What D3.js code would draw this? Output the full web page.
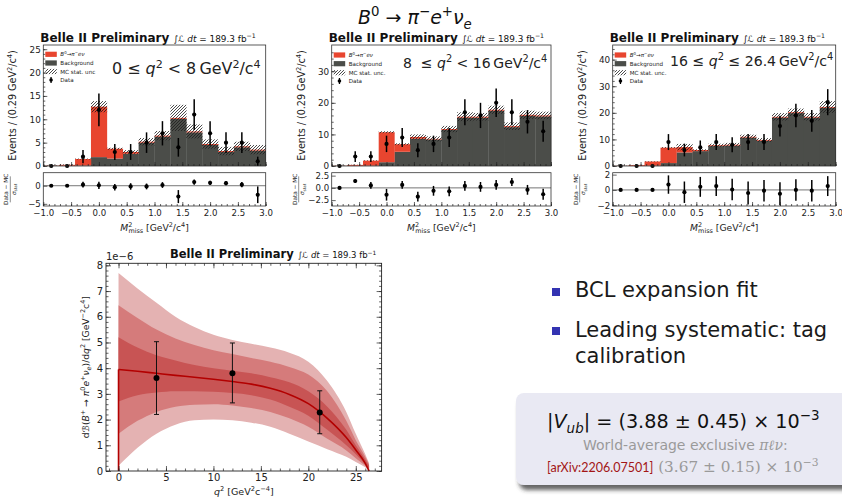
<!DOCTYPE html>
<html>
<head>
<meta charset="utf-8">
<script src="https://cdn.jsdelivr.net/npm/d3@7"></script>
<style>
  body { margin: 0; background: #fff; }
  svg { display: block; }
  text { font-family: "DejaVu Sans", sans-serif; }
</style>
</head>
<body>
<script>
// ---- histogram data (bin centres in GeV^2/c^4) ----
var binCenters = [-0.857, -0.571, -0.286, 0.0, 0.286, 0.571, 0.857, 1.143, 1.429, 1.714, 2.0, 2.286, 2.571, 2.857];
var binWidth = 0.2857;
var missTicks = [-1.0, -0.5, 0.0, 0.5, 1.0, 1.5, 2.0, 2.5, 3.0];

// 0 <= q2 < 8
var bkg1 = [0.05, 0.05, 0.1, 1.9, 1.6, 2.6, 5.0, 6.3, 10.1, 7.2, 4.5, 3.0, 4.0, 3.3];
var sig1 = [0.05, 0.2, 1.4, 10.8, 2.1, 0.4, 0.2, 0.2, 0.2, 0.2, 0.2, 0.2, 0.2, 0.2];
var unc1 = [0.05, 0.1, 0.1, 1.2, 0.2, 0.4, 0.8, 1.0, 2.8, 1.5, 1.0, 0.9, 1.0, 1.0];
var data1 = [0, 0, 2, 12, 3, 3, 5, 7, 4, 11, 7, 5, 5, 1];
var err1 = [0, 0, 1.4, 3.5, 1.7, 1.7, 2.2, 2.6, 2.0, 3.3, 2.6, 2.2, 2.2, 1.0];
var pull1 = [0, 0, 0.3, 0.1, -0.4, -0.2, -0.2, 0.2, -3.0, 1.0, 0.8, 0.7, 0.3, -2.5];
var pullErr1 = [0.15, 0.15, 0.8, 1.0, 0.9, 0.9, 0.8, 0.8, 1.8, 0.7, 0.6, 0.6, 0.7, 2.3];

// 8 <= q2 < 16
var bkg2 = [0.05, 0.05, 0.1, 1.2, 4.5, 8.6, 8.4, 11.4, 15.3, 15.3, 17.5, 12.3, 15.9, 15.7];
var sig2 = [0.05, 0.3, 1.6, 9.5, 2.4, 0.6, 0.2, 0.3, 0.3, 0.3, 0.3, 0.3, 0.3, 0.3];
var unc2 = [0.05, 0.05, 0.1, 0.3, 0.3, 0.8, 0.8, 1.0, 1.4, 1.2, 1.3, 1.2, 1.3, 1.2];
var data2 = [0, 3, 3, 7, 9, 5, 7, 9, 17, 16, 20, 17, 14, 11];
var err2 = [0, 1.7, 1.7, 2.6, 3.0, 2.2, 2.6, 3.0, 4.1, 4.0, 4.5, 4.1, 3.7, 3.3];
var pull2 = [0, 1.4, 0.5, -1.4, 0.6, -1.8, -0.6, -0.7, 0.4, 0.2, 0.6, 1.2, -0.4, -1.3];
var pullErr2 = [0.1, 0.4, 0.7, 1.2, 0.8, 1.0, 1.0, 1.0, 1.0, 1.0, 1.0, 0.8, 1.0, 1.1];

// 16 <= q2 <= 26.4
var bkg3 = [0.05, 0.05, 0.1, 1.1, 5.1, 5.6, 7.5, 7.7, 10.7, 9.5, 18.2, 19.9, 18.2, 21.9];
var sig3 = [0.05, 0.3, 1.6, 5.8, 2.0, 0.4, 0.3, 0.3, 0.3, 0.3, 0.3, 0.3, 0.3, 0.3];
var unc3 = [0.05, 0.05, 0.1, 0.2, 1.2, 0.3, 0.6, 0.7, 0.8, 0.7, 1.4, 1.4, 1.4, 2.2];
var data3 = [0, 0, 0, 9, 6, 7, 9, 8, 9, 9, 15, 19, 17, 24];
var err3 = [0, 0, 0, 3.0, 2.4, 2.6, 3.0, 2.8, 3.0, 3.0, 3.9, 4.4, 4.1, 4.9];
var pull3 = [0, 0, 0, 0.7, -0.3, 0.4, 0.5, 0.05, -0.4, -0.1, -0.5, 0, -0.1, 0.5];
var pullErr3 = [0.05, 0.05, 0.05, 1.2, 1.4, 1.3, 1.3, 1.4, 1.5, 1.4, 1.5, 1.4, 1.4, 1.3];

// ---- differential branching fraction (units of 1e-6) ----
var q2Grid    = [0, 2, 4, 6, 8, 10, 12, 14, 16, 18, 20, 22, 24, 25, 26, 26.4];
var central   = [3.95, 3.88, 3.80, 3.72, 3.65, 3.57, 3.48, 3.38, 3.22, 2.98, 2.62, 2.05, 1.30, 0.82, 0.30, 0.0];
var outerUp   = [7.7, 7.1, 6.55, 6.0, 5.6, 5.3, 5.1, 4.95, 4.8, 4.6, 4.25, 3.5, 2.3, 1.45, 0.65, 0.3];
var outerLo   = [0.2, 0.9, 1.45, 1.8, 1.97, 2.0, 1.97, 1.88, 1.72, 1.45, 1.15, 0.85, 0.55, 0.35, 0.15, 0.05];
var midUp     = [6.45, 5.95, 5.5, 5.15, 4.9, 4.7, 4.55, 4.4, 4.25, 4.05, 3.75, 3.1, 1.95, 1.2, 0.55, 0.25];
var midLo     = [1.45, 1.95, 2.3, 2.5, 2.58, 2.6, 2.55, 2.45, 2.3, 2.05, 1.72, 1.25, 0.8, 0.5, 0.2, 0.08];
var innerUp   = [5.2, 4.8, 4.5, 4.3, 4.12, 4.0, 3.9, 3.8, 3.65, 3.45, 3.1, 2.5, 1.6, 1.0, 0.45, 0.2];
var innerLo   = [2.7, 2.95, 3.05, 3.1, 3.1, 3.08, 3.03, 2.95, 2.78, 2.5, 2.15, 1.6, 1.0, 0.65, 0.25, 0.1];
var measQ2    = [4.0, 12.0, 21.2];
var measVal   = [3.62, 3.80, 2.28];
var measLo    = [2.20, 2.65, 1.45];
var measHi    = [5.03, 4.98, 3.12];
var q2Ticks   = [0, 5, 10, 15, 20, 25];
var dbTicks   = [0, 1, 2, 3, 4, 5, 6, 7, 8];

var sigColor = "#e8452f", bkgColor = "#4b4d49";
var slideFont = "Lato, 'DejaVu Sans', sans-serif";

var svg = d3.select("body").append("svg").attr("width", 842).attr("height", 499);
var defs = svg.append("defs");
defs.append("pattern").attr("id", "hatch").attr("patternUnits", "userSpaceOnUse")
  .attr("width", 3).attr("height", 3)
  .append("path").attr("d", "M-1,1 l2,-2 M0,3 l3,-3 M2,4 l2,-2")
  .attr("stroke", "#1e1e1e").attr("stroke-width", 0.8);
var shadow = defs.append("filter").attr("id", "shadow").attr("x", "-10%").attr("y", "-10%").attr("width", "130%").attr("height", "140%");
shadow.append("feDropShadow").attr("dx", 3).attr("dy", 5).attr("stdDeviation", 2.2)
  .attr("flood-color", "#333").attr("flood-opacity", 0.75);

// rich text helper: parts = [{t, i, sup, sub, f, fill, dx}]
function rich(sel, parts, size) {
  var shift = 0;
  parts.forEach(function(p) {
    var target = p.sup ? -size * 0.4 : p.sub ? size * 0.25 : 0;
    var ts = sel.append("tspan").text(p.t).attr("dy", target - shift);
    shift = target;
    if (p.sup || p.sub) ts.attr("font-size", size * 0.7);
    if (p.i) ts.attr("font-style", "italic");
    if (p.f) ts.attr("font-family", p.f);
    if (p.fill) ts.attr("fill", p.fill);
    if (p.dx) ts.attr("dx", p.dx);
  });
  return sel;
}

function belleTitle(x, y, size) {
  var t = svg.append("text").attr("x", x).attr("y", y).attr("font-size", size).attr("fill", "#111");
  t.append("tspan").attr("font-weight", "bold").text("Belle II Preliminary ");
  var s = size * 0.74;
  t.append("tspan").attr("font-size", s).text("\u222B");
  t.append("tspan").attr("font-size", s).attr("font-style", "italic").text("\u2112 dt");
  t.append("tspan").attr("font-size", s).text(" = 189.3 fb");
  t.append("tspan").attr("font-size", s * 0.7).attr("dy", -s * 0.4).text("\u22121");
}

function styleAxis(g, size) {
  g.select(".domain").remove();
  g.selectAll(".tick line").attr("stroke", "#222").attr("stroke-width", 0.7);
  g.selectAll(".tick text").attr("font-size", size).attr("fill", "#222")
    .attr("font-family", "DejaVu Sans");
}

var fmt = function(f) { return function(d) { return d3.format(f)(d); }; };

function drawPanel(p) {
  var top = 45, base = 166, pTop = 172.7, pBot = 206;
  var x = d3.scaleLinear().domain([-1, 3]).range([p.L, p.R]);
  var y = d3.scaleLinear().domain([0, p.ymax]).range([base, top]);
  var yp = d3.scaleLinear().domain(p.pullDom).range([pBot, pTop]);
  var bins = binCenters.map(function(c, i) {
    return { c: c, bkg: p.bkg[i], sig: p.sig[i], unc: p.unc[i], data: p.data[i], err: p.err[i],
             pull: p.pull[i], pullErr: p.pullErr[i] };
  });
  var g = svg.append("g");
  var bx = function(d) { return x(d.c - binWidth / 2); };
  var bw = function(d) { return x(d.c + binWidth / 2) - x(d.c - binWidth / 2) + 0.3; };

  g.selectAll("rect.bkg").data(bins).join("rect").attr("class", "bkg")
    .attr("x", bx).attr("width", bw)
    .attr("y", function(d) { return y(d.bkg); })
    .attr("height", function(d) { return y(0) - y(d.bkg); })
    .attr("fill", bkgColor);
  g.selectAll("rect.sig").data(bins).join("rect").attr("class", "sig")
    .attr("x", bx).attr("width", bw)
    .attr("y", function(d) { return y(d.bkg + d.sig); })
    .attr("height", function(d) { return y(d.bkg) - y(d.bkg + d.sig); })
    .attr("fill", sigColor);
  g.selectAll("rect.unc").data(bins).join("rect").attr("class", "unc")
    .attr("x", bx).attr("width", bw)
    .attr("y", function(d) { return y(d.bkg + d.sig + d.unc); })
    .attr("height", function(d) { return y(Math.max(0, d.bkg + d.sig - d.unc)) - y(d.bkg + d.sig + d.unc); })
    .attr("fill", "url(#hatch)");

  // data points
  g.selectAll("line.err").data(bins.filter(function(d) { return d.err > 0; })).join("line")
    .attr("x1", function(d) { return x(d.c); }).attr("x2", function(d) { return x(d.c); })
    .attr("y1", function(d) { return y(d.data - d.err); }).attr("y2", function(d) { return y(d.data + d.err); })
    .attr("stroke", "#000").attr("stroke-width", 1.5);
  g.selectAll("circle.pt").data(bins).join("circle")
    .attr("cx", function(d) { return x(d.c); }).attr("cy", function(d) { return y(d.data); })
    .attr("r", 2.1).attr("fill", "#000");

  // pull panel
  g.append("line").attr("x1", p.L).attr("x2", p.R).attr("y1", yp(0)).attr("y2", yp(0))
    .attr("stroke", "#666").attr("stroke-width", 0.9);
  g.selectAll("line.perr").data(bins).join("line")
    .attr("x1", function(d) { return x(d.c); }).attr("x2", function(d) { return x(d.c); })
    .attr("y1", function(d) { return yp(d.pull - d.pullErr); }).attr("y2", function(d) { return yp(d.pull + d.pullErr); })
    .attr("stroke", "#000").attr("stroke-width", 1.5);
  g.selectAll("circle.pp").data(bins).join("circle")
    .attr("cx", function(d) { return x(d.c); }).attr("cy", function(d) { return yp(d.pull); })
    .attr("r", 2.1).attr("fill", "#000");

  // frames
  g.append("rect").attr("x", p.L).attr("y", top).attr("width", p.R - p.L).attr("height", base - top)
    .attr("fill", "none").attr("stroke", "#333").attr("stroke-width", 0.8);
  g.append("rect").attr("x", p.L).attr("y", pTop).attr("width", p.R - p.L).attr("height", pBot - pTop)
    .attr("fill", "none").attr("stroke", "#333").attr("stroke-width", 0.8);

  // axes
  var minorX = d3.range(-10, 31).map(function(v) { return v / 10; });
  [base, pBot].forEach(function(yy, k) {
    var ax = g.append("g").attr("transform", "translate(0," + yy + ")")
      .call(d3.axisBottom(x).tickValues(missTicks).tickSize(-4).tickPadding(3.5)
        .tickFormat(k === 1 ? fmt(".1f") : ""));
    styleAxis(ax, 8.6);
    var mx = g.append("g").attr("transform", "translate(0," + yy + ")")
      .call(d3.axisBottom(x).tickValues(minorX).tickSize(-2).tickFormat(""));
    styleAxis(mx, 8);
  });
  var ay = g.append("g").attr("transform", "translate(" + p.L + ",0)")
    .call(d3.axisLeft(y).tickValues(p.yTicks).tickSize(-4).tickPadding(2.5).tickFormat(d3.format("d")));
  styleAxis(ay, 8.8);
  var my = g.append("g").attr("transform", "translate(" + p.L + ",0)")
    .call(d3.axisLeft(y).tickValues(p.yMinor).tickSize(-2).tickFormat(""));
  styleAxis(my, 8);
  var apy = g.append("g").attr("transform", "translate(" + p.L + ",0)")
    .call(d3.axisLeft(yp).tickValues(p.pullTicks).tickSize(-4).tickPadding(2.5).tickFormat(fmt(p.pullFmt)));
  styleAxis(apy, 8.6);

  // axis labels
  var cx = (p.L + p.R) / 2;
  rich(g.append("text").attr("x", cx).attr("y", 231).attr("text-anchor", "middle").attr("font-size", 9.2).attr("fill", "#222"),
    [{ t: "M", i: true }, { t: "2", sup: true }, { t: "miss", sub: true, dx: -3.9 }, { t: " [GeV" }, { t: "2", sup: true }, { t: "/c" }, { t: "4", sup: true }, { t: "]" }], 9.2);
  rich(g.append("text").attr("transform", "translate(" + (p.L - 27) + "," + ((top + base) / 2) + ") rotate(-90)")
      .attr("text-anchor", "middle").attr("font-size", 9.6).attr("fill", "#222"),
    [{ t: "Events / (0.29 GeV" }, { t: "2", sup: true }, { t: "/c" }, { t: "4", sup: true }, { t: ")" }], 9.6);
  var fr = g.append("g").attr("transform", "translate(" + (p.L - 33) + "," + ((pTop + pBot) / 2) + ") rotate(-90)");
  fr.append("text").attr("y", -2).attr("text-anchor", "middle").attr("font-size", 5.8).attr("fill", "#222").text("Data \u2212 MC");
  fr.append("line").attr("x1", -13).attr("x2", 13).attr("y1", 0).attr("y2", 0).attr("stroke", "#222").attr("stroke-width", 0.5);
  rich(fr.append("text").attr("y", 5.5).attr("text-anchor", "middle").attr("font-size", 5.8).attr("fill", "#222"),
    [{ t: "\u03C3", i: true }, { t: "stat", sub: true }], 5.8);

  // legend
  var lg = g.append("g").attr("font-size", 5.6).attr("fill", "#222");
  var lx = p.L + 2, rows = p.legendRows;
  lg.append("rect").attr("x", lx).attr("y", rows[0] - 2.6).attr("width", 11.5).attr("height", 5.2).attr("fill", sigColor);
  lg.append("rect").attr("x", lx).attr("y", rows[1] - 2.6).attr("width", 11.5).attr("height", 5.2).attr("fill", bkgColor);
  lg.append("rect").attr("x", lx).attr("y", rows[2] - 2.6).attr("width", 11.5).attr("height", 5.2).attr("fill", "url(#hatch)");
  lg.append("line").attr("x1", lx + 5.75).attr("x2", lx + 5.75).attr("y1", rows[3] - 3).attr("y2", rows[3] + 3)
    .attr("stroke", "#000").attr("stroke-width", 1.3);
  lg.append("circle").attr("cx", lx + 5.75).attr("cy", rows[3]).attr("r", 1.8).attr("fill", "#000");
  var tx = lx + 15;
  rich(lg.append("text").attr("x", tx).attr("y", rows[0] + 2).attr("font-size", 5.6),
    [{ t: "B", i: true }, { t: "0", sup: true }, { t: "\u2192" }, { t: "\u03C0", i: true }, { t: "\u2212", sup: true }, { t: "e\u03BD", i: true }], 5.6);
  lg.append("text").attr("x", tx).attr("y", rows[1] + 2).text("Background");
  lg.append("text").attr("x", tx).attr("y", rows[2] + 2).text(p.uncLabel);
  lg.append("text").attr("x", tx).attr("y", rows[3] + 2).text("Data");

  // q2 range label
  rich(g.append("text").attr("x", p.labelX).attr("y", p.labelY).attr("font-size", p.labelSize).attr("fill", "#222"),
    p.label, p.labelSize);

  belleTitle(p.L - 3, 41.5, 12);
}

var yMinor1 = d3.range(0, 26, 1), yMinor2 = d3.range(0, 38, 2), yMinor3 = d3.range(0, 46, 2);

drawPanel({ L: 43.3, R: 265.7, ymax: 25.9, yTicks: [0, 5, 10, 15, 20, 25], yMinor: yMinor1,
  pullDom: [-5.6, 3.6], pullTicks: [-5, 0], pullFmt: "d",
  bkg: bkg1, sig: sig1, unc: unc1, data: data1, err: err1, pull: pull1, pullErr: pullErr1,
  legendRows: [54.3, 63, 71.5, 80], uncLabel: "MC stat. unc",
  labelX: 112, labelY: 74, labelSize: 15.9,
  label: [{ t: "0 \u2264 " }, { t: "q", i: true }, { t: "2", sup: true }, { t: " < 8\u2009GeV" }, { t: "2", sup: true }, { t: "/c" }, { t: "4", sup: true }] });

drawPanel({ L: 331.7, R: 551, ymax: 38.3, yTicks: [0, 10, 20, 30], yMinor: yMinor2,
  pullDom: [-3.7, 3.1], pullTicks: [-2.5, 0, 2.5], pullFmt: ".1f",
  bkg: bkg2, sig: sig2, unc: unc2, data: data2, err: err2, pull: pull2, pullErr: pullErr2,
  legendRows: [55, 63.7, 72.7, 81], uncLabel: "MC stat. unc.",
  labelX: 403, labelY: 68, labelSize: 14,
  label: [{ t: "8 \u00A0\u2264 " }, { t: "q", i: true }, { t: "2", sup: true }, { t: " < 16\u2009GeV" }, { t: "2", sup: true }, { t: "/c" }, { t: "4", sup: true }] });

drawPanel({ L: 612.7, R: 835.7, ymax: 45.5, yTicks: [0, 10, 20, 30, 40], yMinor: yMinor3,
  pullDom: [-2.1, 2.25], pullTicks: [-2, 0, 2], pullFmt: "d",
  bkg: bkg3, sig: sig3, unc: unc3, data: data3, err: err3, pull: pull3, pullErr: pullErr3,
  legendRows: [55, 63.7, 72.7, 81], uncLabel: "MC stat. unc.",
  labelX: 670, labelY: 66, labelSize: 14.1,
  label: [{ t: "16 \u2264 " }, { t: "q", i: true }, { t: "2", sup: true }, { t: " \u2264 26.4\u2009GeV" }, { t: "2", sup: true }, { t: "/c" }, { t: "4", sup: true }] });

// ---- slide title ----
rich(svg.append("text").attr("x", 358).attr("y", 24).attr("font-size", 19).attr("fill", "#111")
  .attr("font-family", "DejaVu Serif"),
  [{ t: "B", i: true }, { t: "0", sup: true }, { t: " \u2192 " }, { t: "\u03C0", i: true }, { t: "\u2212", sup: true },
   { t: "e", i: true }, { t: "+", sup: true }, { t: "\u03BD", i: true }, { t: "e", i: true, sub: true }], 19);

// ---- dB/dq2 chart ----
(function() {
  var L = 106, R = 381.6, T = 263.3, B = 471;
  var x = d3.scaleLinear().domain([-1.32, 27.72]).range([L, R]);
  var y = d3.scaleLinear().domain([0, 8.08]).range([B, T]);
  var g = svg.append("g");
  var pts = q2Grid.map(function(q, i) {
    return { q: q, c: central[i], ou: outerUp[i], ol: outerLo[i], mu: midUp[i], ml: midLo[i], iu: innerUp[i], il: innerLo[i] };
  });
  var band = function(lo, hi) {
    return d3.area().curve(d3.curveMonotoneX)
      .x(function(d) { return x(d.q); }).y0(function(d) { return y(d[lo]); }).y1(function(d) { return y(d[hi]); });
  };
  g.append("path").datum(pts).attr("d", band("ol", "ou")).attr("fill", "#e4b2b2");
  g.append("path").datum(pts).attr("d", band("ml", "mu")).attr("fill", "#d57b7b");
  g.append("path").datum(pts).attr("d", band("il", "iu")).attr("fill", "#c85454");
  var line = d3.line().curve(d3.curveMonotoneX).x(function(d) { return x(d.q); }).y(function(d) { return y(d.c); });
  g.append("path").datum(pts).attr("d", line).attr("fill", "none").attr("stroke", "#b30000").attr("stroke-width", 1.6);
  g.append("line").attr("x1", x(q2Grid[0])).attr("x2", x(q2Grid[0])).attr("y1", y(0)).attr("y2", y(central[0]))
    .attr("stroke", "#b30000").attr("stroke-width", 1.6);

  var meas = measQ2.map(function(q, i) { return { q: q, v: measVal[i], lo: measLo[i], hi: measHi[i] }; });
  g.selectAll("line.me").data(meas).join("line")
    .attr("x1", function(d) { return x(d.q); }).attr("x2", function(d) { return x(d.q); })
    .attr("y1", function(d) { return y(d.lo); }).attr("y2", function(d) { return y(d.hi); })
    .attr("stroke", "#111").attr("stroke-width", 1);
  ["lo", "hi"].forEach(function(k) {
    g.selectAll("line.cap" + k).data(meas).join("line")
      .attr("x1", function(d) { return x(d.q) - 2.5; }).attr("x2", function(d) { return x(d.q) + 2.5; })
      .attr("y1", function(d) { return y(d[k]); }).attr("y2", function(d) { return y(d[k]); })
      .attr("stroke", "#111").attr("stroke-width", 1);
  });
  g.selectAll("circle.me").data(meas).join("circle")
    .attr("cx", function(d) { return x(d.q); }).attr("cy", function(d) { return y(d.v); })
    .attr("r", 3).attr("fill", "#000");

  g.append("rect").attr("x", L).attr("y", T).attr("width", R - L).attr("height", B - T)
    .attr("fill", "none").attr("stroke", "#222").attr("stroke-width", 0.9);
  var minorQ = d3.range(-1, 28, 1), minorY = d3.range(0, 40.5, 1).map(function(v) { return v / 5; });
  var axB = g.append("g").attr("transform", "translate(0," + B + ")")
    .call(d3.axisBottom(x).tickValues(q2Ticks).tickSize(-5).tickPadding(3));
  styleAxis(axB, 10);
  [[B, d3.axisBottom], [T, d3.axisTop]].forEach(function(a) {
    var m = g.append("g").attr("transform", "translate(0," + a[0] + ")")
      .call(a[1](x).tickValues(minorQ).tickSize(-2.5).tickFormat(""));
    styleAxis(m, 8);
  });
  var axT = g.append("g").attr("transform", "translate(0," + T + ")")
    .call(d3.axisTop(x).tickValues(q2Ticks).tickSize(-5).tickFormat(""));
  styleAxis(axT, 8);
  var axL = g.append("g").attr("transform", "translate(" + L + ",0)")
    .call(d3.axisLeft(y).tickValues(dbTicks).tickSize(-5).tickPadding(3).tickFormat(d3.format("d")));
  styleAxis(axL, 10);
  var axR = g.append("g").attr("transform", "translate(" + R + ",0)")
    .call(d3.axisRight(y).tickValues(dbTicks).tickSize(-5).tickFormat(""));
  styleAxis(axR, 8);
  [[L, d3.axisLeft], [R, d3.axisRight]].forEach(function(a) {
    var m = g.append("g").attr("transform", "translate(" + a[0] + ",0)")
      .call(a[1](y).tickValues(minorY).tickSize(-2.5).tickFormat(""));
    styleAxis(m, 8);
  });

  g.append("text").attr("x", L).attr("y", 260).attr("font-size", 10).attr("fill", "#222").text("1e\u22126");
  rich(g.append("text").attr("x", (L + R) / 2).attr("y", 495).attr("text-anchor", "middle").attr("font-size", 9.5).attr("fill", "#222"),
    [{ t: "q", i: true }, { t: "2", sup: true }, { t: " [GeV" }, { t: "2", sup: true }, { t: "c" }, { t: "\u22124", sup: true }, { t: "]" }], 9.5);
  rich(g.append("text").attr("transform", "translate(89," + ((T + B) / 2) + ") rotate(-90)")
      .attr("text-anchor", "middle").attr("font-size", 9.2).attr("fill", "#222"),
    [{ t: "d" }, { t: "\u212C", i: true }, { t: "(" }, { t: "B", i: true }, { t: "+", sup: true }, { t: " \u2192 " },
     { t: "\u03C0", i: true }, { t: "0", sup: true }, { t: "e", i: true }, { t: "+", sup: true }, { t: "\u03BD", i: true },
     { t: "e", i: true, sub: true }, { t: ")/d" }, { t: "q", i: true }, { t: "2", sup: true }, { t: " [GeV" },
     { t: "\u22122", sup: true }, { t: "c" }, { t: "4", sup: true }, { t: "]" }], 9.2);
  belleTitle(170, 258, 11.5);
})();

// ---- bullet text ----
var bullets = svg.append("g").attr("font-family", slideFont).attr("font-size", 21).attr("fill", "#1a1a1a");
bullets.append("rect").attr("x", 552).attr("y", 288).attr("width", 8).attr("height", 8).attr("fill", "#3333b2");
bullets.append("text").attr("x", 575).attr("y", 297).text("BCL expansion fit");
bullets.append("rect").attr("x", 552).attr("y", 327).attr("width", 8).attr("height", 8).attr("fill", "#3333b2");
bullets.append("text").attr("x", 575).attr("y", 336.5).text("Leading systematic: tag");
bullets.append("text").attr("x", 575).attr("y", 363).text("calibration");

// ---- result box ----
svg.append("rect").attr("x", 516).attr("y", 393).attr("width", 340).attr("height", 92).attr("rx", 8)
  .attr("fill", "#e9e9f3").attr("filter", "url(#shadow)");
rich(svg.append("text").attr("x", 547).attr("y", 428).attr("font-size", 19.2).attr("fill", "#111")
  .attr("font-family", slideFont),
  [{ t: "|" }, { t: "V", i: true }, { t: "ub", i: true, sub: true }, { t: "| = (3.88 \u00B1 0.45) \u00D7 10" }, { t: "\u22123", sup: true }], 19.2);
rich(svg.append("text").attr("x", 583).attr("y", 450).attr("font-size", 14).attr("fill", "#9a9a9a")
  .attr("font-family", slideFont),
  [{ t: "World-average exclusive " }, { t: "\u03C0\u2113\u03BD", i: true, f: "DejaVu Serif" }, { t: ":" }], 14);
var arx = svg.append("text").attr("x", 547).attr("y", 472).attr("font-size", 12.5);
arx.append("tspan").attr("fill", "#a31616").attr("font-family", slideFont).text("[arXiv:2206.07501]");
rich(arx.append("tspan").attr("fill", "#9a9a9a").attr("font-family", "DejaVu Serif").attr("font-size", 15.3),
  [{ t: " (3.67 \u00B1 0.15) \u00D7 10" }, { t: "\u22123", sup: true }], 15.3);
</script>
</body>
</html>
